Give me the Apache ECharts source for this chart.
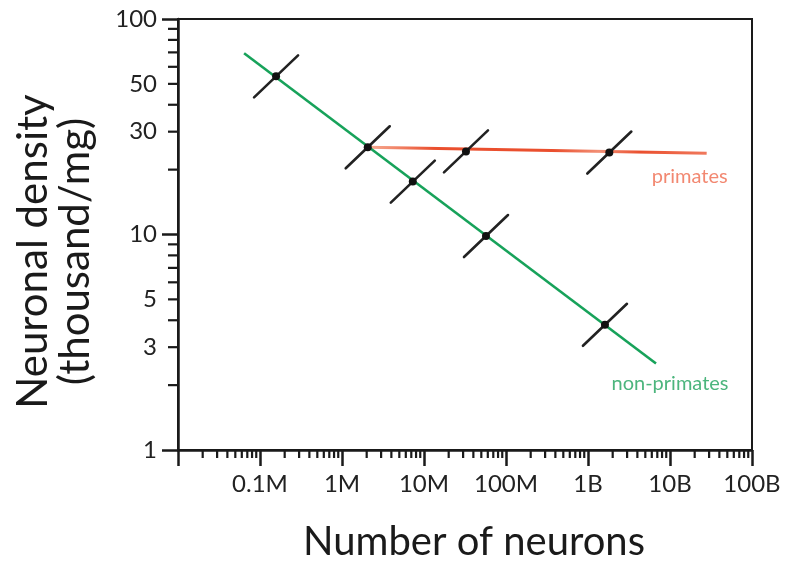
<!DOCTYPE html>
<html>
<head>
<meta charset="utf-8">
<script src="https://cdn.jsdelivr.net/npm/echarts@6/dist/echarts.min.js"></script>
<style>html,body{margin:0;padding:0;background:#fff}#c{width:787px;height:570px}</style>
</head>
<body>
<div id="c"></div>
<script>
// ---- data ----
const xTickValues = [1e5, 1e6, 1e7, 1e8, 1e9, 1e10, 1e11];
const xTickLabels = ['0.1M', '1M', '10M', '100M', '1B', '10B', '100B'];
const yTickLabels = [1, 3, 5, 10, 30, 50, 100];
const minorMultipliers = [2, 3, 4, 5, 6, 7, 8, 9];
const xDecades = [1e4, 1e5, 1e6, 1e7, 1e8, 1e9, 1e10];
const yDecades = [1, 10];

// fitted lines (endpoints, neurons vs density in thousand/mg)
const nonPrimateLine = [[6.4e4, 69.4], [6.75e9, 2.52]];
const primateLine = [[2.06e6, 25.4], [2.8e10, 23.8]];
// measured species groups
const nonPrimatePoints = [[1.57e5, 54.2], [2.06e6, 25.4], [7.3e6, 17.6], [5.7e7, 9.84], [1.61e9, 3.81]];
const primatePoints = [[3.25e7, 24.3], [1.82e9, 24.0]];

const xMinorTicks = [];
xDecades.forEach(d => minorMultipliers.forEach(m => xMinorTicks.push(d * m)));
const yMinorTicks = [];
yDecades.forEach(d => minorMultipliers.forEach(m => yMinorTicks.push(d * m)));

const FONT = 'Lato';
const X_MIN = 1e4, X_MAX = 1e11, Y_MIN = 1, Y_MAX = 100;

const chart = echarts.init(document.getElementById('c'), null, {renderer: 'canvas'});

const markerSeries = (data) => ({
  type: 'custom',
  data: data,
  encode: {x: 0, y: 1},
  z: 10,
  renderItem: function (params, api) {
    const p = api.coord([api.value(0), api.value(1)]);
    return {
      type: 'group',
      children: [
        {type: 'line', shape: {x1: p[0] - 22, y1: p[1] + 21, x2: p[0] + 22, y2: p[1] - 21},
         style: {stroke: '#222', lineWidth: 2.6, lineCap: 'round'}},
        {type: 'circle', shape: {cx: p[0], cy: p[1], r: 4}, style: {fill: '#111'}}
      ]
    };
  }
});

const option = {
  animation: false,
  backgroundColor: '#fff',
  grid: {left: 178, right: 35, top: 19, bottom: 120, show: true, borderColor: '#1a1a1a', borderWidth: 2},
  xAxis: {
    type: 'log', logBase: 10, min: X_MIN, max: X_MAX,
    name: 'Number of neurons', nameLocation: 'middle', nameGap: 72,
    nameTextStyle: {fontFamily: FONT, fontSize: 40, color: '#1a1a1a', padding: [0, 0, 0, 18]},
    axisLine: {lineStyle: {color: '#1a1a1a', width: 2.5}},
    axisTick: {length: 16, lineStyle: {color: '#1a1a1a', width: 2.5}},
    splitLine: {show: false},
    minorTick: {show: false},
    axisLabel: {
      fontFamily: FONT, fontSize: 24, color: '#222', margin: 22,
      formatter: function (v) {
        const i = xTickValues.findIndex(t => Math.abs(Math.log10(t) - Math.log10(v)) < 1e-6);
        return i >= 0 ? xTickLabels[i] : '';
      }
    }
  },
  yAxis: {
    type: 'log', logBase: 10, min: Y_MIN, max: Y_MAX,
    name: 'Neuronal density\n(thousand/mg)', nameLocation: 'middle', nameGap: 82,
    nameTextStyle: {fontFamily: FONT, fontSize: 42, color: '#1a1a1a', lineHeight: 42, padding: [0, 34, 0, 0]},
    axisLine: {lineStyle: {color: '#1a1a1a', width: 2.5}},
    axisTick: {length: 16, lineStyle: {color: '#1a1a1a', width: 2.5}},
    splitLine: {show: false},
    minorTick: {show: false},
    axisLabel: {
      fontFamily: FONT, fontSize: 24, color: '#222', margin: 21,
      customValues: yTickLabels,
      formatter: function (v) { return String(Math.round(v)); }
    }
  },
  series: [
    {
      type: 'line', data: nonPrimateLine, showSymbol: false, symbol: 'none', z: 3,
      lineStyle: {color: '#17a25a', width: 2.6}
    },
    {
      type: 'line', data: primateLine, showSymbol: false, symbol: 'none', z: 2,
      lineStyle: {
        width: 3,
        color: new echarts.graphic.LinearGradient(0, 0, 1, 0, [
          {offset: 0, color: '#f7b199'}, {offset: 0.2, color: '#ea4f2e'},
          {offset: 0.55, color: '#ea4f2e'}, {offset: 0.68, color: '#f29076'},
          {offset: 0.8, color: '#ea4f2e'}, {offset: 1, color: '#f07a5e'}
        ])
      }
    },
    markerSeries(nonPrimatePoints),
    markerSeries(primatePoints),
    {
      type: 'scatter', symbolSize: 1, itemStyle: {color: 'transparent'}, z: 5,
      data: [{name: 'non-primates', value: nonPrimateLine[1]}],
      label: {show: true, position: 'inside', offset: [14, 20], formatter: '{b}',
              fontFamily: FONT, fontSize: 20, color: '#1fa35c'}
    },
    {
      type: 'scatter', symbolSize: 1, itemStyle: {color: 'transparent'}, z: 5,
      data: [{name: 'primates', value: primateLine[1]}],
      label: {show: true, position: 'inside', offset: [-17, 23], formatter: '{b}',
              fontFamily: FONT, fontSize: 20, color: '#ef6a4e'}
    },
    {
      // minor ticks on the x axis
      type: 'custom', data: xMinorTicks.map(v => [v, Y_MIN]), encode: {x: 0, y: 1}, z: 4,
      renderItem: function (params, api) {
        const p = api.coord([api.value(0), api.value(1)]);
        return {type: 'line', shape: {x1: p[0], y1: p[1], x2: p[0], y2: p[1] + 8},
                style: {stroke: '#1a1a1a', lineWidth: 2.2}};
      }
    },
    {
      // minor ticks on the y axis
      type: 'custom', data: yMinorTicks.map(v => [X_MIN, v]), encode: {x: 0, y: 1}, z: 4,
      renderItem: function (params, api) {
        const p = api.coord([api.value(0), api.value(1)]);
        return {type: 'line', shape: {x1: p[0] - 10, y1: p[1], x2: p[0], y2: p[1]},
                style: {stroke: '#1a1a1a', lineWidth: 2.2}};
      }
    }
  ]
};
chart.setOption(option);
</script>
</body>
</html>
